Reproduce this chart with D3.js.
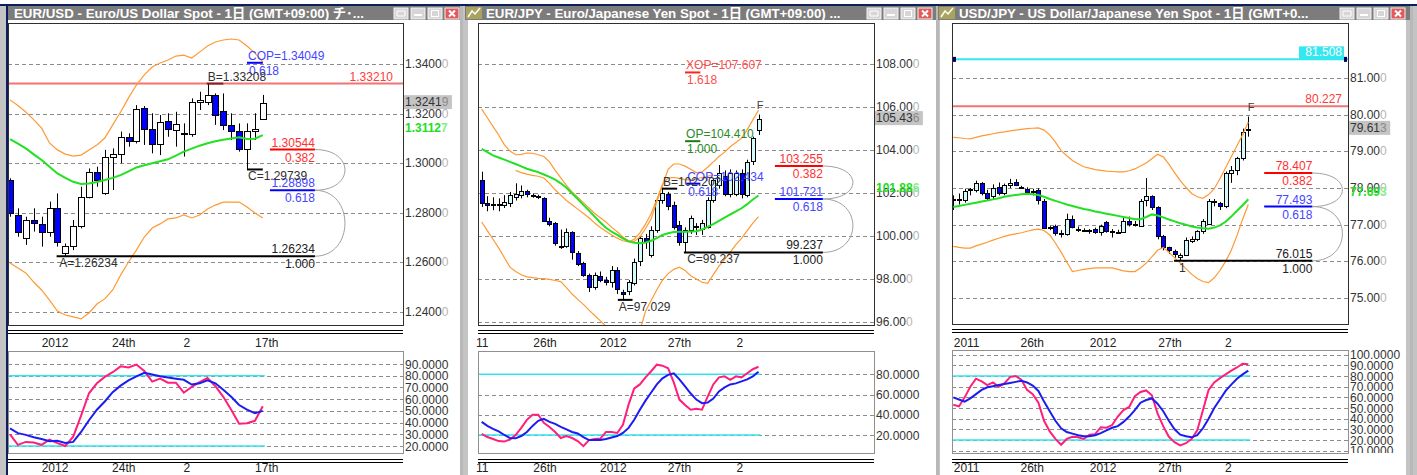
<!DOCTYPE html>
<html><head><meta charset="utf-8">
<script src="https://cdn.jsdelivr.net/npm/d3@7"></script>
<style>
body{margin:0;background:#c8c8c8;}
svg{display:block;font-family:"Liberation Sans","Noto Sans CJK JP",sans-serif;}
</style>
</head><body>
<svg id="chart" width="1417" height="475"></svg>
<script>
// ---------------- DATA ----------------
const titles = [
  "EUR/USD - Euro/US Dollar Spot - 1日 (GMT+09:00) チ･...",
  "EUR/JPY - Euro/Japanese Yen Spot - 1日 (GMT+09:00) ...",
  "USD/JPY - US Dollar/Japanese Yen Spot - 1日 (GMT+0..."
];

// EUR/USD daily candles [open, high, low, close]
const eurusdOHLC = [
[1.2931,1.2938,1.2783,1.2797],[1.2790,1.2817,1.2702,1.2720],[1.2696,1.2783,1.2669,1.2770],
[1.2770,1.2817,1.2723,1.2756],[1.2754,1.2783,1.2662,1.2723],[1.2725,1.2844,1.2702,1.2820],
[1.2820,1.2877,1.2662,1.2682],[1.2635,1.2675,1.26234,1.2665],[1.2666,1.2770,1.2648,1.2747],
[1.2747,1.2904,1.2736,1.2864],[1.2864,1.2978,1.2857,1.2965],[1.2965,1.2985,1.2904,1.2931],
[1.2877,1.3053,1.2871,1.3023],[1.3023,1.3059,1.2891,1.3036],[1.3036,1.3127,1.2999,1.3104],
[1.3104,1.3120,1.3066,1.3089],[1.3089,1.3234,1.3079,1.3217],[1.3221,1.3230,1.3073,1.3136],
[1.3136,1.3201,1.3039,1.3077],[1.3077,1.3194,1.3032,1.3167],[1.3170,1.3201,1.3106,1.3136],
[1.3133,1.3207,1.3066,1.3156],[1.3116,1.3160,1.3026,1.3120],[1.3117,1.3261,1.3106,1.3245],
[1.3245,1.3288,1.3214,1.3255],[1.3248,1.33208,1.3234,1.3275],[1.3275,1.3281,1.3154,1.3194],
[1.3210,1.3281,1.3133,1.3154],[1.3154,1.3201,1.3093,1.3129],[1.3129,1.3160,1.3046,1.3055],
[1.3055,1.3160,1.29739,1.3129],[1.3127,1.3201,1.3093,1.3137],[1.3178,1.3275,1.3174,1.32419]
];
const eurusdMA = [1.3096,1.3078,1.3059,1.3035,1.3012,1.2985,1.2958,1.2940,1.2924,1.2915,
 1.2917,1.2923,1.2931,1.2940,1.2951,1.2966,1.2982,1.2991,1.2999,1.3007,
 1.3015,1.3030,1.3046,1.3058,1.3070,1.3080,1.3088,1.3094,1.3099,1.3104,
 1.3097,1.3098,1.31127];
const eurusdUpper = [1.3255,1.3232,1.3206,1.3175,1.3141,1.3081,1.3053,1.3036,1.3028,1.3032,
 1.3053,1.3073,1.3101,1.3154,1.3206,1.3263,1.3315,1.3356,1.3388,1.3404,
 1.3416,1.3432,1.3436,1.3424,1.3448,1.3473,1.3489,1.3497,1.3501,1.3497,
 1.3473,1.3444,1.3408];
const eurusdLower = [1.2596,1.2576,1.2556,1.2519,1.2487,1.2446,1.2402,1.2386,1.2378,1.2370,
 1.2394,1.2430,1.2451,1.2487,1.2547,1.2600,1.2648,1.2701,1.2737,1.2754,
 1.2774,1.2778,1.2790,1.2778,1.2790,1.2814,1.2830,1.2842,1.2842,1.2842,
 1.2822,1.2798,1.2778];
const eurusdK = [30,21,23.5,23,21,25.5,22.5,20,28,46,65,73.5,79,83,88,87,89.5,84,75,77.5,
 74,74,65.5,70.5,74.5,78,71,62,51,39,39.5,41.5,54];
const eurusdD = [35,31,29.5,27.5,26,24,24.5,22.5,23.5,32,42,51,58,66,71.5,76,79.5,82.5,81,79.5,
 78.5,77.5,76.5,72.5,73.5,76,73.5,68,62,55,51,48,50];
const eurusdTicks = [1.24,1.26,1.28,1.30,1.32,1.34];
const eurusdOscTicks = [20,30,40,50,60,70,80,90];
const eurusdDates = [{t:"2012",i:5.7},{t:"24th",i:14.4},{t:"2",i:22.4},{t:"17th",i:32.5}];

// EUR/JPY
const eurjpyOHLC = [
[102.60,102.99,101.35,101.52],[101.52,101.85,101.15,101.45],[101.45,101.80,101.20,101.50],
[101.50,101.75,101.15,101.47],[101.47,101.90,101.30,101.60],[101.55,102.05,101.35,101.90],
[101.80,102.45,101.65,101.95],[101.90,102.35,101.75,102.08],[102.08,102.15,101.80,101.92],
[101.92,101.98,101.78,101.88],[101.86,101.92,101.72,101.82],[101.75,101.80,100.65,100.70],
[100.70,100.85,100.45,100.56],[100.59,100.65,99.55,99.66],[99.52,100.30,99.40,99.50],
[99.50,100.35,99.45,100.17],[100.17,100.22,98.90,99.24],[99.22,99.30,98.60,98.73],
[98.73,98.80,98.10,98.19],[98.19,98.25,97.40,97.64],[97.64,98.30,97.50,98.19],
[98.15,98.35,97.85,97.95],[97.95,98.10,97.70,97.84],[97.87,98.60,97.60,98.44],
[98.44,98.55,97.30,97.57],[97.41,97.50,97.029,97.30],[97.41,97.95,97.25,97.84],
[97.84,98.95,97.70,98.80],[98.80,100.00,98.60,99.89],[99.89,100.10,99.40,99.74],
[99.12,100.45,99.00,100.28],[100.28,101.80,100.15,101.67],[101.67,102.202,101.50,102.00],
[101.94,102.05,101.20,101.37],[101.44,101.60,100.30,100.43],[100.51,100.70,99.55,99.74],
[99.74,100.40,99.237,100.28],[100.28,100.95,100.10,100.82],[100.45,100.60,100.05,100.40],
[100.30,100.75,100.05,100.60],[100.43,101.80,100.35,101.67],[101.67,102.70,101.55,102.60],
[102.40,103.30,102.20,102.95],[102.80,103.05,101.85,101.94],[101.94,103.10,101.80,102.92],
[101.94,103.05,101.85,102.92],[102.92,103.10,101.75,101.94],[101.94,103.55,101.80,103.46],
[103.46,104.62,103.30,104.54],[104.93,105.65,104.70,105.436]
];
const eurjpyMA = [104.05,103.90,103.75,103.65,103.55,103.45,103.35,103.24,103.13,103.05,
 102.97,102.86,102.75,102.62,102.45,102.24,101.98,101.72,101.45,101.18,
 100.90,100.63,100.38,100.20,100.05,99.89,99.75,99.69,99.66,99.70,
 99.78,99.90,100.05,100.13,100.19,100.20,100.20,100.21,100.22,100.30,
 100.42,100.55,100.70,100.85,101.00,101.14,101.29,101.48,101.70,101.886];
const eurjpyUpper = [105.90,105.50,105.10,104.70,104.25,103.95,103.78,103.80,103.86,103.85,
 103.78,103.70,103.45,103.05,102.70,102.35,102.05,101.80,101.55,101.30,
 101.05,100.85,100.65,100.40,100.20,99.95,99.78,99.75,99.95,100.35,
 100.80,101.60,102.35,103.10,103.35,103.35,103.25,103.10,102.95,102.98,
 103.20,103.45,103.70,103.90,104.15,104.35,104.55,104.95,105.40,105.85];
const eurjpyUpper2 = [null,null,null,null,null,null,103.05,102.95,102.88,102.82,
 102.78,102.70,102.45,102.15,101.90,101.65,101.45,101.25,101.05,100.85,
 100.60,100.40,100.22,100.05,99.90,99.78,99.73,99.85,100.15,100.55,
 101.05,101.70,102.40,102.70,102.72,102.68,102.62,102.60,102.65,102.72,
 102.78,102.85,null,null,null,null,null,null,null,null];
const eurjpyLower = [100.65,100.25,99.85,99.45,99.00,98.55,98.35,98.20,98.10,98.06,
 98.03,98.02,97.98,97.93,97.88,97.60,97.30,97.05,96.82,96.55,
 96.30,96.05,95.80,95.50,95.20,95.00,95.00,95.20,95.60,96.50,
 97.00,97.50,97.95,98.25,98.45,98.55,98.40,98.15,98.00,97.85,
 97.80,98.20,98.60,98.90,99.25,99.60,99.89,100.25,100.60,100.90];
const eurjpyK = [21,18,16,14,13.5,15.5,20,27,35,40,40,32,28,23,17,19,17,14,9,15,
 16,16.5,23,23,22,30,50,66,70,77,83,89.5,88.5,86,72,55,49.6,45,46,45,
 58,70,77,78,74.5,78,77,81,85,87.5];
const eurjpyD = [33,29,26,23.5,20,17,16.7,19,23,29,34,36,33,31,28,25.5,23,21.5,18,15,
 15,15,16,17.5,19,22,27,35,45,54,62,70,76,79.5,81,75,68,61,55,51.5,
 52,56,63,67,70,71,73,75,78,82.5];
const eurjpyTicks = [96,98,100,102,104,106,108];
const eurjpyOscTicks = [20,40,60,80];
const eurjpyDates = [{t:"11",i:0.1},{t:"26th",i:11.2},{t:"2012",i:23.3},{t:"27th",i:35},{t:"2",i:45.7}];

// USD/JPY
const usdjpyOHLC = [
[77.68,77.80,77.40,77.70],[77.70,77.85,77.55,77.68],[77.684,77.98,77.60,77.929],
[77.93,78.00,77.80,77.96],[77.956,78.20,77.88,78.138],[78.138,78.16,77.80,77.866],
[77.866,77.95,77.65,77.729],[77.775,78.10,77.70,78.002],[78.02,78.15,77.80,77.866],
[77.866,78.12,77.80,78.093],[78.074,78.25,78.00,78.138],[78.165,78.24,78.05,78.093],
[78.02,78.06,77.98,78.00],[77.984,78.02,77.85,77.893],[77.93,77.98,77.80,77.93],
[77.956,77.99,77.55,77.684],[77.657,77.70,76.88,76.912],[76.93,76.96,76.85,76.90],
[76.96,77.00,76.70,76.76],[76.75,76.85,76.65,76.76],[76.748,77.30,76.70,77.166],
[77.166,77.25,76.90,76.957],[76.87,76.95,76.80,76.86],[76.86,76.90,76.80,76.866],
[76.85,76.88,76.75,76.84],[76.894,76.92,76.75,76.803],[76.803,77.00,76.70,76.957],
[77.075,77.10,76.78,76.839],[76.82,76.88,76.65,76.83],[76.81,76.86,76.75,76.80],
[76.803,77.20,76.78,77.094],[77.112,77.22,76.95,77.021],[77.02,77.10,76.95,77.03],
[76.985,77.70,76.96,77.657],[77.657,78.27,77.50,77.775],[77.775,77.80,77.40,77.475],
[77.475,77.50,76.60,76.685],[76.685,76.72,76.30,76.385],[76.385,76.40,76.20,76.294],
[76.294,76.32,76.10,76.203],[76.14,76.22,76.015,76.185],[76.185,76.65,76.15,76.594],
[76.567,76.68,76.50,76.612],[76.612,76.85,76.55,76.821],[76.821,77.15,76.75,77.094],
[77.04,77.70,77.00,77.657],[77.657,77.70,77.50,77.62],[77.59,77.62,77.40,77.50],
[77.50,78.45,77.45,78.41],[78.41,78.60,78.14,78.50],[78.50,78.85,78.35,78.82],
[78.82,79.62,78.75,79.52],[79.60,79.95,79.40,79.613]
];
const usdjpyMA = [77.48,77.51,77.54,77.57,77.60,77.63,77.66,77.69,77.72,77.76,
 77.79,77.81,77.83,77.84,77.83,77.81,77.76,77.70,77.65,77.60,
 77.55,77.51,77.47,77.43,77.40,77.36,77.33,77.30,77.27,77.24,
 77.21,77.18,77.15,77.15,77.21,77.28,77.25,77.20,77.14,77.09,
 77.04,77.00,76.95,76.92,76.90,76.89,76.92,76.98,77.08,77.22,
 77.38,77.53,77.693];
const usdjpyUpper = [79.38,79.37,79.35,79.34,79.38,79.42,79.45,79.48,79.51,79.53,
 79.56,79.58,79.60,79.62,79.63,79.64,79.58,79.45,79.25,79.02,
 78.88,78.75,78.66,78.58,78.54,78.50,78.48,78.46,78.45,78.44,
 78.44,78.47,78.52,78.60,78.68,78.80,78.92,78.85,78.65,78.42,
 78.20,78.02,77.85,77.76,77.72,77.82,77.98,78.25,78.55,78.85,
 79.15,79.45,79.80];
const usdjpyLower = [76.41,76.38,76.36,76.36,76.42,76.47,76.52,76.58,76.63,76.68,
 76.72,76.75,76.78,76.82,76.86,76.88,76.84,76.72,76.50,76.25,
 75.98,75.72,75.75,75.78,75.80,75.82,75.82,75.82,75.82,75.78,
 75.74,75.72,75.72,75.82,75.95,76.12,76.30,76.38,76.25,76.10,
 75.95,75.80,75.65,75.53,75.45,75.42,75.55,75.75,76.00,76.30,
 76.70,77.15,77.55];
const usdjpyK = [53,51.5,60,70,77.5,75,71.5,74,70,73,79,80,76.5,67,63,55,38,28,21,15.5,
 21,23,22.5,21,25,25.5,32,31.5,34,42,48,51,61,65,66.5,62,45,33,23,18,
 15,17,21,29,48,67,74,78,81.5,85,88,91.5,91];
const usdjpyD = [60,58,56,59,63,67,69.5,70.5,71.5,72.5,73.5,74.5,75.5,74,71,66,56,47,38,31,
 27.5,26,24.5,23.5,23.5,24.5,26.5,29,31.5,33,37,42,48,55,57.5,59,54,47,38,30,
 25,23.5,22.5,24.5,31,40,50,58,66,72,77.5,81.5,85];
const usdjpyTicks = [75,76,77,78,79,80,81];
const usdjpyOscTicks = [10,20,30,40,50,60,70,80,90,100];
const usdjpyDates = [{t:"2011",i:2.35},{t:"26th",i:13.9},{t:"2012",i:26.4},{t:"27th",i:38.2},{t:"2",i:48.5}];

// ---------------- STYLE ----------------
const RED = "#ff3030", BLUE = "#4646ff", DARK = "#202020", GREEN_TXT = "#2a8a2a";

const panels = [
 { id:1, title:titles[0], icon:false, tb:[8,460], inner:[8,460], btnRight:459,
   plot:[8,403,23,325], osc:[351,453], xr:[10,262.8], bw:6, white:"#ffffff",
   ohlc:eurusdOHLC, ma:eurusdMA, upper:eurusdUpper, upper2:null, lower:eurusdLower, k:eurusdK, d:eurusdD,
   yDom:[1.34,1.26], yRng:[64,262], dec:5, ticks:eurusdTicks,
   oDom:[90,20], oRng:[364,446], oTicks:eurusdOscTicks, dates:eurusdDates,
   hlines:[{v:1.33210, c:"#f07474", txt:"1.33210", tc:"#ff3a3a", at:393}],
   fibRange:[32.9,38.6],
   fib:[{v:1.30544,r:"0.382",c:RED,lc:"#ff0000"},{v:1.28898,r:"0.618",c:BLUE,lc:"#0000ff"},{v:1.26234,r:"1.000",c:DARK,lc:"#000",from:5.9}],
   proj:[{v:1.34049,t:"COP=1.34049",r:"0.618",c:BLUE,lc:"#0000ff",i0:30,i1:32}],
   pts:[{v:1.33208,t:"B=1.33208",i0:24.9,i1:27,pos:"above",lc:"#802020"},
        {v:1.29739,t:"C=1.29739",i0:30,i1:32,pos:"below",lc:"#000"},
        {v:1.26234,t:"A=1.26234",i0:6.1,pos:"below"}],
   F:null },
 { id:2, title:titles[1], icon:true, tb:[465,936], inner:[468,936], btnRight:932,
   plot:[478,874,23,325], osc:[351,453], xr:[481.7,758.5], bw:4, white:"#d4fbfb",
   ohlc:eurjpyOHLC, ma:eurjpyMA, upper:eurjpyUpper, upper2:eurjpyUpper2, lower:eurjpyLower, k:eurjpyK, d:eurjpyD,
   yDom:[108,96], yRng:[64,322], dec:3, ticks:eurjpyTicks,
   oDom:[80,20], oRng:[374.3,435], oTicks:eurjpyOscTicks, dates:eurjpyDates,
   hlines:[],
   fibRange:[51.9,60.4],
   fib:[{v:103.255,r:"0.382",c:RED,lc:"#ff0000"},{v:101.721,r:"0.618",c:BLUE,lc:"#0000ff"},{v:99.237,r:"1.000",c:DARK,lc:"#000",from:35.8}],
   proj:[{v:107.607,t:"XOP=107.607",r:"1.618",c:"#ff4d4d",lc:"#ff2020",i0:36,i1:38.7},
         {v:104.410,t:"OP=104.410",r:"1.000",c:GREEN_TXT,lc:"#1a7a1a",i0:36,i1:38.7},
         {v:102.434,t:"COP=102.434",r:"0.618",c:BLUE,lc:"#0000ff",i0:36.2,i1:38.7}],
   pts:[{v:102.202,t:"B=102.202",i0:31.9,i1:34.6,pos:"above",lc:"#000"},
        {v:97.029,t:"A=97.029",i0:24.1,i1:26.7,pos:"below",lc:"#000"},
        {v:99.237,t:"C=99.237",i0:36.2,pos:"below"}],
   F:{t:"F",i:49.3} },
 { id:3, title:titles[2], icon:true, tb:[938,1410], inner:[940,1406], btnRight:1405,
   plot:[952,1348,23,324], osc:[350,453], xr:[953.3,1248.3], bw:4, white:"#d4fbfb",
   ohlc:usdjpyOHLC, ma:usdjpyMA, upper:usdjpyUpper, upper2:null, lower:usdjpyLower, k:usdjpyK, d:usdjpyD,
   yDom:[81,75], yRng:[78,298], dec:3, ticks:usdjpyTicks,
   oDom:[100,20], oRng:[354.7,440], oTicks:usdjpyOscTicks, dates:usdjpyDates,
   hlines:[{v:80.227, c:"#f07474", txt:"80.227", tc:"#ff3a3a", at:1342},
           {v:81.508, c:"#33e8f0", txt:"81.508", tc:"#ffffff", at:1342, box:"#33e8f0", ends:"#000060"}],
   fibRange:[54.8,63.3],
   fib:[{v:78.407,r:"0.382",c:RED,lc:"#ff0000"},{v:77.493,r:"0.618",c:BLUE,lc:"#0000ff"},{v:76.015,r:"1.000",c:DARK,lc:"#000",from:38.9}],
   proj:[],
   pts:[{v:76.015,t:"1",i0:39.6,pos:"below"}],
   F:{t:"F",i:52.5} }
];

// ---------------- DRAW ----------------
const svg = d3.select("#chart");
svg.append("rect").attr("width",1417).attr("height",475).attr("fill","#c4c4c4");
svg.append("rect").attr("width",1417).attr("height",4).attr("fill","#ffffff");
svg.append("rect").attr("y",4).attr("width",1417).attr("height",2).attr("fill","#0c1f5c");
svg.append("rect").attr("x",6).attr("y",4).attr("width",2).attr("height",471).attr("fill","#0c1f5c");

function twoTone(g, x, y, s, col, tailCol, opts={}) {
  const t = g.append("text").attr("x",x).attr("y",y).attr("font-size",opts.fs||12).attr("fill",col);
  if (opts.bold) t.attr("font-weight","bold");
  t.append("tspan").text(s.slice(0,-1));
  t.append("tspan").attr("fill",tailCol).text(s.slice(-1));
  return t;
}

panels.forEach(P => {
  const g = svg.append("g");
  const [px0,px1,py0,py1] = P.plot;
  const n = P.ohlc.length;
  const x = d3.scaleLinear().domain([0,n-1]).range(P.xr);
  const y = d3.scaleLinear().domain(P.yDom).range(P.yRng);
  const yo = d3.scaleLinear().domain(P.oDom).range(P.oRng);

  // window interior & title bar
  g.append("rect").attr("x",P.inner[0]).attr("y",20).attr("width",P.inner[1]-P.inner[0]).attr("height",455).attr("fill","#fff");
  g.append("rect").attr("x",P.tb[0]).attr("y",6).attr("width",P.tb[1]-P.tb[0]).attr("height",14).attr("fill","#7c7c7c");
  let tx = P.tb[0]+6;
  if (P.icon) {
    g.append("rect").attr("x",P.tb[0]+1).attr("y",7).attr("width",16).attr("height",12).attr("fill","#a9a35e");
    g.append("path").attr("d",`M${P.tb[0]+3},17 L${P.tb[0]+7},11 L${P.tb[0]+10},14 L${P.tb[0]+15},8`).attr("stroke","#fff").attr("stroke-width",1.5).attr("fill","none");
    tx = P.tb[0]+21;
  }
  g.append("text").attr("x",tx).attr("y",18).attr("fill","#fff").attr("font-weight","bold").attr("font-size",13.3).text(P.title);
  // buttons
  for (let b=0;b<4;b++){
    const bx = P.btnRight - (4-b)*17 + 3;
    const close = b===3;
    g.append("rect").attr("x",bx).attr("y",8).attr("width",14).attr("height",11).attr("fill",close?"#e35a5a":"#d6d6d6").attr("stroke","#f4f4f4");
    if (close) {
      g.append("path").attr("d",`M${bx+4},10.5 L${bx+10},16.5 M${bx+10},10.5 L${bx+4},16.5`).attr("stroke","#fff").attr("stroke-width",2);
    } else if (b===0) {
      g.append("path").attr("d",`M${bx+3},11 L${bx+11},11 L${bx+11},16 L${bx+3},16 Z`).attr("stroke","#fff").attr("fill","none");
    } else if (b===1) {
      g.append("rect").attr("x",bx+3).attr("y",14).attr("width",8).attr("height",2).attr("fill","#fff");
    } else {
      g.append("rect").attr("x",bx+3.5).attr("y",10.5).attr("width",7).attr("height",6).attr("fill","none").attr("stroke","#fff");
    }
  }
  // right edge of window
  g.append("rect").attr("x",P.tb[1]).attr("y",6).attr("width",3).attr("height",469).attr("fill","#b8b8b8");

  // ---- price plot ----
  const cid = "clipP"+P.id;
  svg.append("clipPath").attr("id",cid).append("rect").attr("x",px0).attr("y",py0).attr("width",px1-px0).attr("height",py1-py0);
  const pg = g.append("g").attr("clip-path",`url(#${cid})`);

  P.ticks.forEach(t => {
    pg.append("line").attr("x1",px0).attr("x2",px1).attr("y1",Math.round(y(t))+0.5).attr("y2",Math.round(y(t))+0.5)
      .attr("stroke","#8c8c8c").attr("stroke-dasharray","4,3");
    twoTone(g, px1+2, y(t)+4, t.toFixed(P.dec), "#333", "#b4b4b4");
  });

  // horizontal level lines
  P.hlines.forEach(h => {
    pg.append("line").attr("x1",px0).attr("x2",px1).attr("y1",y(h.v)).attr("y2",y(h.v)).attr("stroke",h.c).attr("stroke-width",2);
    if (h.box) {
      g.append("rect").attr("x",h.at-43).attr("y",y(h.v)-13).attr("width",45).attr("height",13).attr("fill",h.box);
      g.append("rect").attr("x",px0+1).attr("y",y(h.v)-2.5).attr("width",3).attr("height",5).attr("fill",h.ends);
      g.append("rect").attr("x",px1-4).attr("y",y(h.v)-2.5).attr("width",3).attr("height",5).attr("fill",h.ends);
    }
    g.append("text").attr("x",h.at).attr("y",y(h.v)-3).attr("text-anchor","end").attr("font-size",12).attr("fill",h.tc).text(h.txt);
  });

  // candles
  pg.selectAll(".wick").data(P.ohlc).join("line")
    .attr("x1",(d,i)=>Math.round(x(i))+0.5).attr("x2",(d,i)=>Math.round(x(i))+0.5)
    .attr("y1",d=>y(d[1])).attr("y2",d=>y(d[2])).attr("stroke","#000");
  pg.selectAll(".body").data(P.ohlc).join("rect")
    .attr("x",(d,i)=>Math.round(x(i))-P.bw/2+0.5)
    .attr("y",d=>Math.round(y(Math.max(d[0],d[3])))+0.5)
    .attr("width",P.bw)
    .attr("height",d=>Math.max(1,Math.round(Math.abs(y(d[0])-y(d[3])))))
    .attr("fill",d=>d[3]<d[0]?"#0000ff":P.white).attr("stroke","#000");

  // indicator lines
  const lnI = arr => d3.line().defined(d=>d!=null).x((d,i)=>x(i)).y(d=>y(d))(arr);
  pg.append("path").attr("d",lnI(P.upper)).attr("fill","none").attr("stroke","#ff9933").attr("stroke-width",1.2);
  if (P.upper2) pg.append("path").attr("d",lnI(P.upper2)).attr("fill","none").attr("stroke","#ff9933").attr("stroke-width",1.2);
  pg.append("path").attr("d",lnI(P.lower)).attr("fill","none").attr("stroke","#ff9933").attr("stroke-width",1.2);
  pg.append("path").attr("d",lnI(P.ma)).attr("fill","none").attr("stroke","#22e022").attr("stroke-width",2);

  // fib retracement levels
  const fx0 = x(P.fibRange[0]), fx1 = x(P.fibRange[1]);
  P.fib.forEach(f => {
    const yy = y(f.v);
    const lx0 = f.from!=null ? x(f.from) : fx0;
    g.append("line").attr("x1",lx0).attr("x2",fx1).attr("y1",yy).attr("y2",yy).attr("stroke",f.lc).attr("stroke-width",2);
    g.append("text").attr("x",fx1).attr("y",yy-3).attr("text-anchor","end").attr("font-size",12).attr("fill",f.c).text(f.v.toFixed(P.dec));
    g.append("text").attr("x",fx1).attr("y",yy+12).attr("text-anchor","end").attr("font-size",12).attr("fill",f.c).text(f.r);
  });
  for (let j=0;j<P.fib.length-1;j++){
    const ya = y(P.fib[j].v), yb = y(P.fib[j+1].v);
    g.append("path").attr("d",`M${fx1},${ya} C${fx1+40},${ya} ${fx1+40},${yb} ${fx1},${yb}`)
      .attr("fill","none").attr("stroke","#a0a0a0").attr("stroke-width",1);
  }

  // projections
  P.proj.forEach(p => {
    const yy = y(p.v);
    g.append("line").attr("x1",x(p.i0)).attr("x2",x(p.i1)).attr("y1",yy).attr("y2",yy).attr("stroke",p.lc).attr("stroke-width",2);
    g.append("text").attr("x",x(p.i0)+1).attr("y",yy-3).attr("font-size",12).attr("fill",p.c).text(p.t);
    g.append("text").attr("x",x(p.i0)+2).attr("y",yy+12).attr("font-size",12).attr("fill",p.c).text(p.r);
  });

  // swing points
  P.pts.forEach(p => {
    const yy = y(p.v);
    if (p.i1!=null) g.append("line").attr("x1",x(p.i0)).attr("x2",x(p.i1)).attr("y1",yy).attr("y2",yy).attr("stroke",p.lc).attr("stroke-width",2);
    g.append("text").attr("x",x(p.i0)+1).attr("y",p.pos==="above"?yy-3:yy+11).attr("font-size",12).attr("fill","#303030").text(p.t);
  });
  if (P.F) {
    const last = P.ohlc[n-1];
    g.append("text").attr("x",x(P.F.i)).attr("y",y(last[1])-6).attr("text-anchor","middle").attr("font-size",11).attr("fill","#404040").text(P.F.t);
  }

  // current price & MA labels
  const lastC = P.ohlc[n-1][3];
  const cs = lastC.toFixed(P.dec);
  g.append("rect").attr("x",px1+1).attr("y",y(lastC)-8).attr("width",cs.length*6.7+1).attr("height",14).attr("fill","#c4c4c4");
  twoTone(g, px1+2, y(lastC)+3, cs, "#333", "#8a8a8a");
  const lastMA = P.ma[n-1];
  twoTone(g, px1+2, y(lastMA)-3.5, lastMA.toFixed(P.dec), "#22dd22", "#88ee88", {bold:true});

  // plot frame
  g.append("rect").attr("x",px0+0.5).attr("y",py0+0.5).attr("width",px1-px0).attr("height",py1-py0).attr("fill","none").attr("stroke","#303030");
  [5.5,8.5].forEach(o => g.append("line").attr("x1",px0).attr("x2",px1).attr("y1",py1+o).attr("y2",py1+o).attr("stroke","#000"));

  // date labels
  P.dates.forEach(dl => {
    g.append("text").attr("x",x(dl.i)).attr("y",347).attr("text-anchor","middle").attr("font-size",12).attr("fill","#222").text(dl.t);
    g.append("text").attr("x",x(dl.i)).attr("y",472).attr("text-anchor","middle").attr("font-size",12).attr("fill","#222").text(dl.t);
  });

  // ---- oscillator ----
  const [oy0,oy1] = P.osc;
  const ocid = "clipO"+P.id;
  svg.append("clipPath").attr("id",ocid).append("rect").attr("x",px0).attr("y",oy0).attr("width",px1-px0+70).attr("height",oy1-oy0);
  const og = g.append("g").attr("clip-path",`url(#${ocid})`);
  P.oTicks.forEach(t => {
    og.append("line").attr("x1",px0).attr("x2",px1).attr("y1",Math.round(yo(t))+0.5).attr("y2",Math.round(yo(t))+0.5)
      .attr("stroke","#8c8c8c").attr("stroke-dasharray","4,3");
    og.append("text").attr("x",px1+2).attr("y",yo(t)+4.5).attr("font-size",12).attr("fill","#333").text(t.toFixed(4));
  });
  [80,20].forEach(t => og.append("line").attr("x1",px0).attr("x2",x(n-1)+2).attr("y1",yo(t)).attr("y2",yo(t)).attr("stroke","#33e4ee").attr("stroke-width",1.5));
  const lo = d3.line().x((d,i)=>x(i)).y(d=>yo(d));
  og.append("path").attr("d",lo(P.k)).attr("fill","none").attr("stroke","#ff1f7a").attr("stroke-width",2);
  og.append("path").attr("d",lo(P.d)).attr("fill","none").attr("stroke","#1c1cf0").attr("stroke-width",2);
  g.append("rect").attr("x",px0+0.5).attr("y",oy0+0.5).attr("width",px1-px0).attr("height",oy1-oy0).attr("fill","none").attr("stroke","#909090");
  [6.5,9.5].forEach(o => g.append("line").attr("x1",px0).attr("x2",px1).attr("y1",oy1+o).attr("y2",oy1+o).attr("stroke","#000"));
});
</script>
</body></html>
